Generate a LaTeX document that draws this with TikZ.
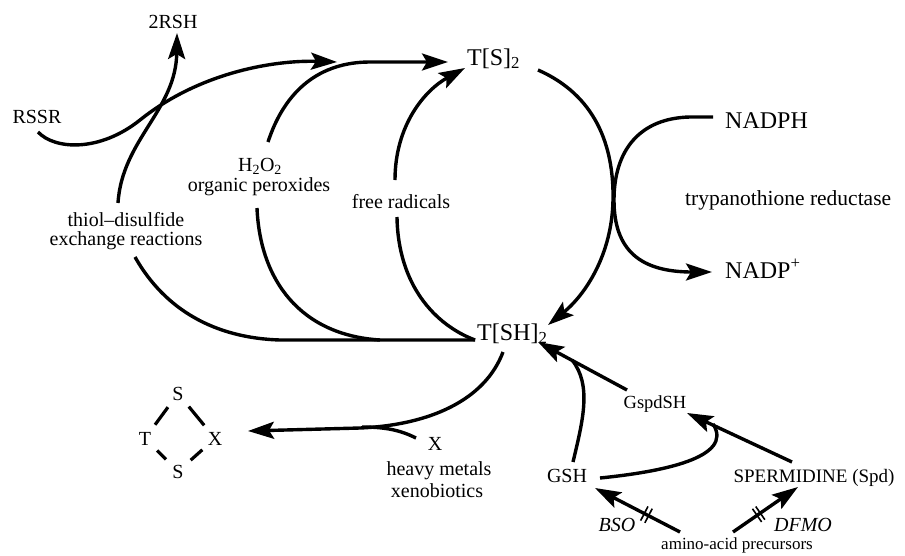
\documentclass[tikz,border=0pt]{standalone}
\usepackage{fontspec}
\setmainfont{Liberation Serif}
\usetikzlibrary{arrows.meta,calc}
\tikzset{
  lbl/.style={font=\fontsize{20}{22}\selectfont, inner sep=0pt, anchor=base},
  lblit/.style={font=\fontsize{20}{22}\selectfont\itshape, inner sep=0pt, anchor=base},
  big/.style={font=\fontsize{24}{26}\selectfont, inner sep=0pt, anchor=base west},
  ln/.style={line width=3.4pt},
  arr/.style={ln, -{Stealth[length=26pt,width=17pt,inset=5pt]}},
  bond/.style={line width=3.2pt, shorten <=17pt, shorten >=17pt},
  bar/.style={line width=1.6pt},
}
\begin{document}
\begin{tikzpicture}[x=1pt,y=-1pt]
\useasboundingbox (0,0) rectangle (905,555);
% ---------- labels ----------
\node[lbl] (rsh) at (173,28) {2RSH};
\node[lbl] (rssr) at (37,123) {RSSR};
\node[lbl] (h2o2) at (260,171) {H\textsubscript{2}O\textsubscript{2}};
\node[lbl] (orgp) at (259,191) {organic peroxides};
\node[lbl] (thiol) at (126,226) {thiol–disulfide};
\node[lbl] (exch) at (126,245) {exchange reactions};
\node[lbl] (frad) at (401,208) {free radicals};
\node[big] (ts) at (467,65) {T[S]\textsubscript{2}};
\node[big] (tsh) at (477,340) {T[SH]\textsubscript{2}};
\node[big] (nadph) at (725,128) {NADPH};
\node[big, font=\fontsize{21.5}{24}\selectfont] (tr) at (685,205) {trypanothione reductase};
\node[big] (nadp) at (725,278) {NADP\textsuperscript{+}};
% ring
\node[lbl] (rt) at (145,445) {T};
\node[lbl] (rs1) at (178,400) {S};
\node[lbl] (rx) at (215,445) {X};
\node[lbl] (rs2) at (178,478) {S};
\draw[bond] (rt.center) -- (rs1.center);
\draw[bond] (rs1.center) -- (rx.center);
\draw[bond] (rt.center) -- (rs2.center);
\draw[bond] (rs2.center) -- (rx.center);
% xenobiotics
\node[lbl] (xx) at (435,450) {X};
\node[lbl] (hm) at (439,475) {heavy metals};
\node[lbl] (xeno) at (437,497) {xenobiotics};
% synthesis
\node[lbl, font=\fontsize{18.5}{20}\selectfont] (gspd) at (655,408) {GspdSH};
\node[lbl] (gsh) at (567,482) {GSH};
\node[lbl, font=\fontsize{19}{21}\selectfont] (spd) at (814,482) {SPERMIDINE (Spd)};
\node[lblit] (bso) at (617,531) {BSO};
\node[lblit] (dfmo) at (803,531) {DFMO};
\node[lbl, font=\fontsize{17}{19}\selectfont] (amino) at (737,549) {amino-acid precursors};
% ---------- connector end points ----------
\coordinate (rssrS) at (38,132);
\coordinate (tip1) at (337,62);
\coordinate (thiolN) at (118,203);
\coordinate (rshS) at (177,33);
\coordinate (thiolS) at (135,257);
\coordinate (tshW) at (475,340);
\coordinate (h2o2N) at (268,142);
\coordinate (tip2) at (448,62);
\coordinate (orgpS) at (257,208);
\coordinate (fradN) at (395,180);
\coordinate (tip3) at (465,68);
\coordinate (fradS) at (397,217);
\coordinate (tsE) at (538,70);
\coordinate (tshNE) at (548,325);
\coordinate (nadphW) at (713,117);
\coordinate (nadpW) at (712,272);
\coordinate (tshS) at (503,352);
\coordinate (ringE) at (248,431);
\coordinate (xxW) at (416,438);
\coordinate (tshSE) at (538,342);
\coordinate (gspdN) at (627,390);
\coordinate (gshN) at (573,462);
\coordinate (gshE) at (600,478);
\coordinate (gspdSE) at (687,413);
\coordinate (spdN) at (792,462);
\coordinate (aminoL) at (680,532);
\coordinate (gshSE) at (595,488);
\coordinate (aminoR) at (733,532);
\coordinate (spdS) at (798,487);
% ---------- connectors ----------
\draw[arr] (rssrS) .. controls (55,150) and (100,152) .. (140,120)
  .. controls (200,72) and (275,60) .. (tip1);
\draw[arr] (thiolN) .. controls (122,140) and (176,110) .. (rshS);
\draw[ln] (thiolS) .. controls (165,310) and (215,338) .. (280,340) -- (tshW);
\draw[arr] (h2o2N) .. controls (285,90) and (320,62) .. (370,62) -- (tip2);
\draw[ln] (orgpS) .. controls (260,280) and (300,335) .. (380,340);
\draw[arr] (fradN) .. controls (395,125) and (425,90) .. (tip3);
\draw[ln] (fradS) .. controls (398,285) and (435,325) .. (tshW);
\draw[arr] (tsE) .. controls (595,95) and (614,145) .. (613,200)
  .. controls (612,255) and (585,295) .. (tshNE);
\draw[arr] (nadphW) -- (690,117) .. controls (640,118) and (614,150) .. (614,200)
  .. controls (614,250) and (640,272) .. (nadpW);
\draw[arr] (tshS) .. controls (485,400) and (430,425) .. (360,428) -- (ringE);
\draw[ln] (xxW) .. controls (400,430) and (385,427) .. (362,427);
\draw[arr] (gspdN) -- (tshSE);
\draw[ln] (gshN) .. controls (583,420) and (592,385) .. (572,360);
\draw[ln] (gshE) .. controls (660,472) and (735,458) .. (713,424);
\draw[arr] (spdN) -- (gspdSE);
\draw[arr] (aminoL) -- (gshSE);
\draw[arr] (aminoR) -- (spdS);
% inhibition bars
\foreach \p in {0.37,0.42} {
  \coordinate (pb) at ($(aminoL)!\p!(gshSE)$);
  \draw[bar] ($(pb)!8pt!90:(gshSE)$) -- ($(pb)!8pt!-90:(gshSE)$);
  \coordinate (pd) at ($(aminoR)!\p!(spdS)$);
  \draw[bar] ($(pd)!8pt!90:(spdS)$) -- ($(pd)!8pt!-90:(spdS)$);
}
\end{tikzpicture}
\end{document}
